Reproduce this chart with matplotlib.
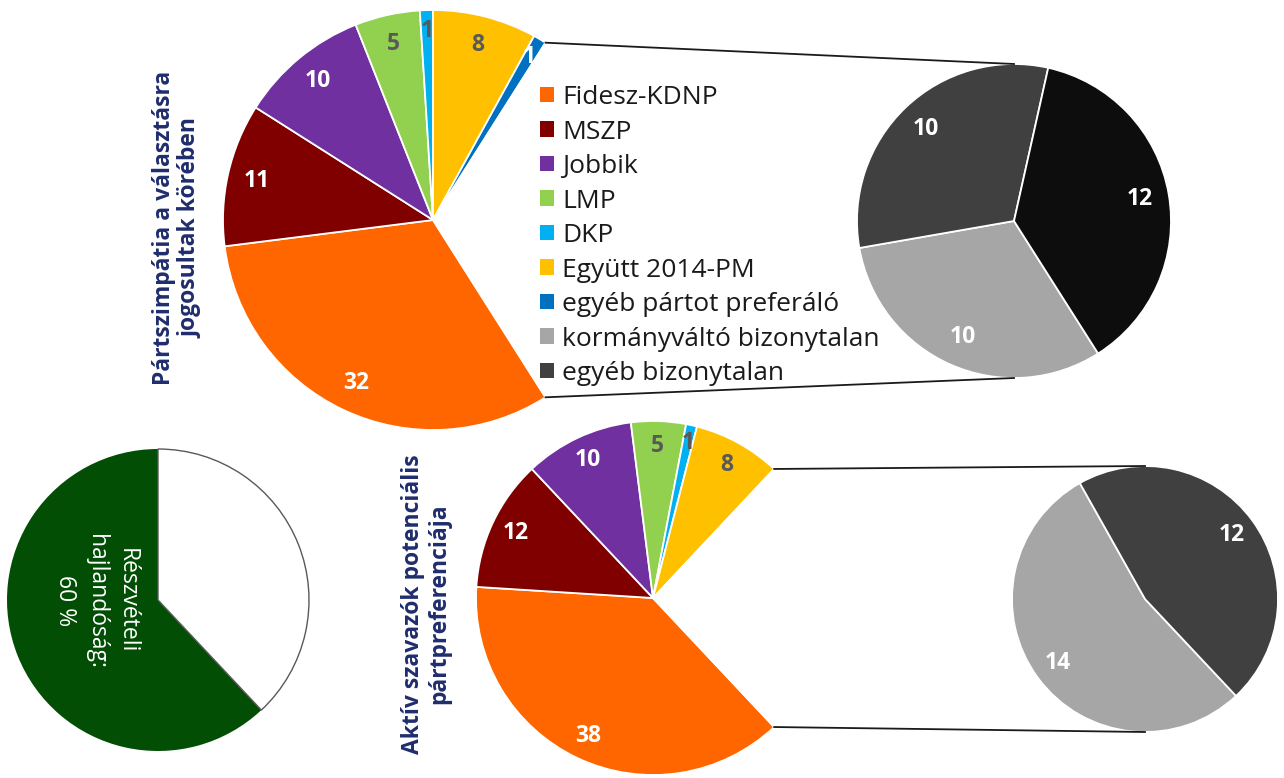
import numpy as np
import matplotlib.pyplot as plt
from matplotlib.patches import Patch

plt.rcParams['font.family'] = ['Open Sans', 'DejaVu Sans']

W, H = 1284, 778

party_labels = ["Fidesz-KDNP", "MSZP", "Jobbik", "LMP", "DKP",
                "Együtt 2014-PM", "egyéb pártot preferáló"]
party_colors = ["#FF6600", "#800000", "#7030A0", "#92D050", "#00B0F0",
                "#FFC000", "#0070C0"]
undecided_labels = ["kormányváltó bizonytalan", "egyéb bizonytalan"]
undecided_colors = ["#A6A6A6", "#404040"]

# választásra jogosultak
all_party = [32, 11, 10, 5, 1, 8, 1]
all_undecided = [10, 10, 12]          # the black slice has no legend entry
all_undecided_colors = ["#A6A6A6", "#404040", "#0D0D0D"]

# aktív szavazók
act_party = [38, 12, 10, 5, 1, 8]
act_undecided = [14, 12]
act_undecided_colors = ["#A6A6A6", "#404040"]

# részvételi hajlandóság (slice as drawn, label says 60 %)
turnout = [62, 38]
turnout_colors = ["#034E05", "white"]

dark_text = "#595959"
light_bg = {"#92D050", "#00B0F0", "#FFC000"}
navy = "#1F2D6E"


def put_labels(ax, wedges, vals, colors, center, r, dist):
    for w, v, c in zip(wedges, vals, colors):
        mid = np.radians((w.theta1 + w.theta2) / 2)
        d = dist + 0.04 if v <= 1 else dist
        x = center[0] + d * r * np.cos(mid)
        y = center[1] + d * r * np.sin(mid)
        tc = dark_text if c in light_bg else "white"
        ax.text(x, y, str(v), ha='center', va='center', fontsize=16.5,
                fontweight='bold', color=tc)


def pie_of_pie(ax, main_vals, main_colors, sec_vals, sec_colors, c1, r1, c2, r2):
    other = sum(sec_vals)
    half = other / (sum(main_vals) + other) * 180
    wp = dict(edgecolor='white', linewidth=1.3)
    wedges, _ = ax.pie(main_vals + [other], colors=main_colors + ['white'],
                       startangle=-half, counterclock=False, center=c1,
                       radius=r1, frame=True, wedgeprops=wp)
    sec, _ = ax.pie(sec_vals, colors=sec_colors, startangle=-half,
                    counterclock=False, center=c2, radius=r2, frame=True,
                    wedgeprops=wp)
    put_labels(ax, wedges[:-1], main_vals, main_colors, c1, r1, 0.86)
    put_labels(ax, sec, sec_vals, sec_colors, c2, r2, 0.81)
    # connector lines from the collapsed slice to the second pie
    w = wedges[-1]
    pts = []
    for t in (w.theta1, w.theta2):
        t = np.radians(t)
        pts.append((c1[0] + r1 * np.cos(t), c1[1] + r1 * np.sin(t)))
    pts.sort(key=lambda p: p[1])
    ax.plot([pts[1][0], c2[0]], [pts[1][1], c2[1] + r2], color='#1a1a1a', lw=1.3)
    ax.plot([pts[0][0], c2[0]], [pts[0][1], c2[1] - r2], color='#1a1a1a', lw=1.3)


fig = plt.figure(figsize=(12.84, 7.78), dpi=100)
ax = fig.add_axes([0, 0, 1, 1])

pie_of_pie(ax, all_party, party_colors, all_undecided, all_undecided_colors,
           (433, H - 220), 210, (1014, H - 221), 157)
pie_of_pie(ax, act_party, party_colors[:6], act_undecided, act_undecided_colors,
           (653, H - 598), 177, (1145, H - 599), 133)

# turnout pie
tw, _ = ax.pie(turnout, colors=turnout_colors, startangle=90, counterclock=True,
               center=(158, H - 600), radius=151, frame=True)
tw[1].set_edgecolor('#595959')
tw[1].set_linewidth(1.0)
ax.text(96, H - 601, "Részvételi\nhajlandóság:\n60 %", rotation=-90,
        ha='center', va='center', multialignment='center', fontsize=16.5,
        color='white', linespacing=1.4)

# vertical titles
ax.text(177, H - 228, "Pártszimpátia a választásra\njogosultak körében",
        rotation=90, ha='center', va='center', multialignment='center',
        fontsize=16.5, fontweight='bold', color=navy, linespacing=1.15)
ax.text(426, H - 604, "Aktív szavazók potenciális\npártpreferenciája",
        rotation=90, ha='center', va='center', multialignment='center',
        fontsize=16.5, fontweight='bold', color=navy, linespacing=1.15)

handles = [Patch(facecolor=c) for c in party_colors + undecided_colors]
ax.legend(handles, party_labels + undecided_labels, loc='upper left',
          bbox_to_anchor=(540, H - 85), bbox_transform=ax.transData,
          frameon=False, fontsize=19, handlelength=0.53, handleheight=0.53,
          handletextpad=0.3, labelspacing=0.36, borderpad=0, borderaxespad=0,
          labelcolor='#1a1a1a')

ax.set_xlim(0, W)
ax.set_ylim(0, H)
ax.set_aspect('equal')
ax.axis('off')

fig.savefig('out.png', dpi=100)
